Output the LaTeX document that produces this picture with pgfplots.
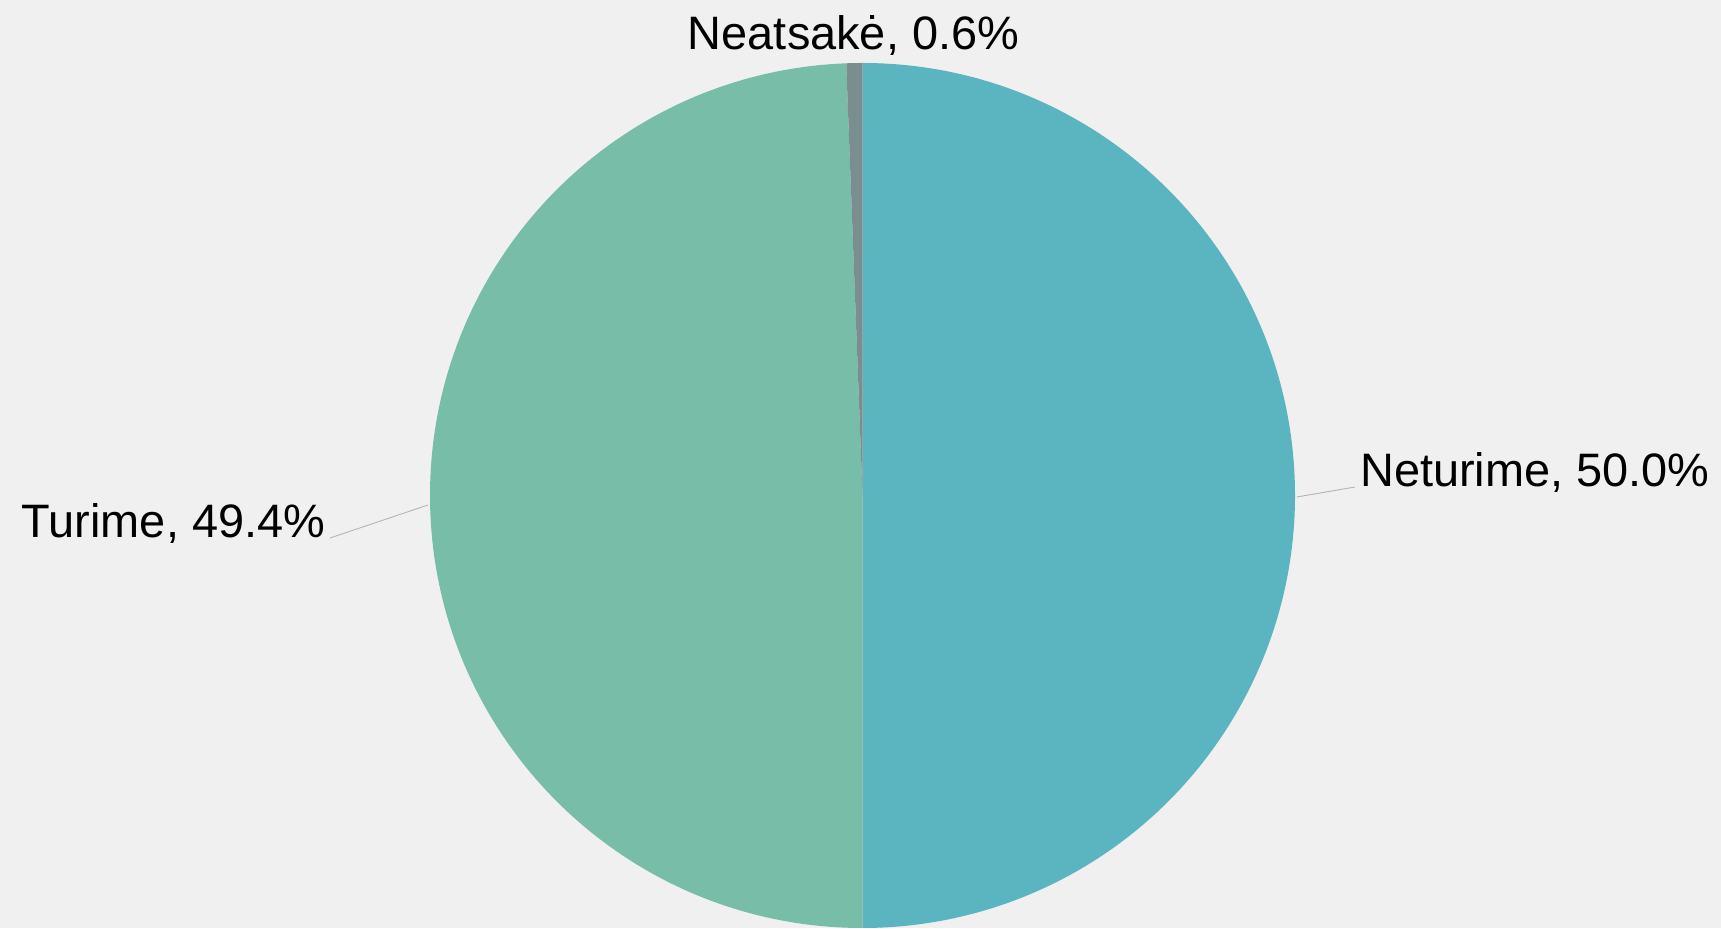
\documentclass[border=0pt]{standalone}
\usepackage{fontspec}
\setmainfont{Liberation Sans}
\usepackage{pgfplots}
\pgfplotsset{compat=1.18}
\usepackage{pgfplotstable}
\definecolor{bgc}{HTML}{F0F0F0}
\definecolor{cNet}{HTML}{5AB5C0}
\definecolor{cTur}{HTML}{77BDA7}
\definecolor{cNea}{HTML}{7A8E8F}
\definecolor{leader}{HTML}{B4B4B4}
% shares (percent), clockwise from 12 o'clock
\pgfplotstableread{
name value
Neturime 50.0
Turime 49.4
Neatsake 0.6
}\piedata
\begin{document}
\begin{tikzpicture}
\begin{axis}[
  x=1bp, y=1bp,
  xmin=0, xmax=1721, ymin=0, ymax=928,
  hide axis, clip=false,
]
\fill[bgc] (axis cs:0,0) rectangle (axis cs:1721,928);
% centre (862.5,432.5), radius 432.5
\fill[cNet] (axis cs:862.5,432.5) -- ++({90-3.6*0}:432.5bp)
  arc[start angle={90-3.6*0}, end angle={90-3.6*50.0}, radius=432.5bp] -- cycle;
\fill[cTur] (axis cs:862.5,432.5) -- ++({90-3.6*50.0}:432.5bp)
  arc[start angle={90-3.6*50.0}, end angle={90-3.6*99.4}, radius=432.5bp] -- cycle;
\fill[cNea] (axis cs:862.5,432.5) -- ++({90-3.6*99.4}:432.5bp)
  arc[start angle={90-3.6*99.4}, end angle={90-3.6*100}, radius=432.5bp] -- cycle;
% leader lines
\draw[leader, line width=0.9bp] (axis cs:330,390) -- (axis cs:428,423);
\draw[leader, line width=0.9bp] (axis cs:1297,431) -- (axis cs:1355,441);
% labels
\node[anchor=base, inner sep=0pt, font=\fontsize{46.9bp}{56bp}\selectfont] at (axis cs:853.5,878) {Neatsakė, 0.6\%};
\node[anchor=base west, inner sep=0pt, font=\fontsize{46.9bp}{56bp}\selectfont] at (axis cs:1360,441) {Neturime, 50.0\%};
\node[anchor=base west, inner sep=0pt, font=\fontsize{46.9bp}{56bp}\selectfont] at (axis cs:21.7,390) {Turime, 49.4\%};
\end{axis}
\end{tikzpicture}
\end{document}
